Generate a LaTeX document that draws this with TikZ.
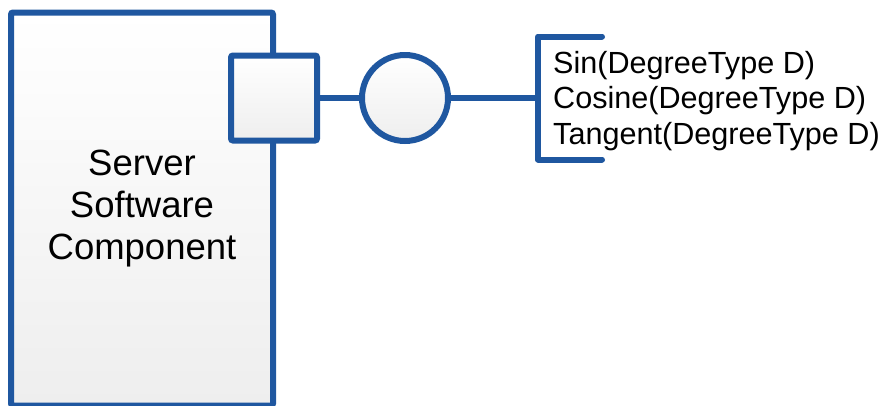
\documentclass[tikz,border=0pt]{standalone}
\usepackage{fontspec}
\setmainfont{Liberation Sans}
\definecolor{umlblue}{RGB}{31,87,160}
\definecolor{shadebot}{RGB}{238,238,238}
\begin{document}
\begin{tikzpicture}[x=1pt,y=-1pt,
  umlline/.style={draw=umlblue,line width=6pt},
  umlbox/.style={umlline,rounded corners=2pt,top color=white,bottom color=shadebot,inner sep=0pt},
  ifacetext/.style={font=\fontsize{30.6}{35.5}\selectfont,align=left,inner sep=0pt}]
\useasboundingbox (0,0) rectangle (888,405);
\node[umlbox,minimum width=262pt,minimum height=393pt,align=center,
  font=\fontsize{36.5}{42}\selectfont] (comp) at (142,209) {Server\\Software\\Component};
\node[umlbox,minimum width=86pt,minimum height=85pt] (port) at (274,98) {};
\node[umlline,circle,minimum size=86pt,inner sep=0pt,top color=white,bottom color=shadebot] (circ) at (405,98) {};
\coordinate (brk) at (538,98);
\node[ifacetext,anchor=west] (ops) at (553,101) {Sin(DegreeType D)\\Cosine(DegreeType D)\\Tangent(DegreeType D)};
\draw[umlline] (port.east) -- (circ.west);
\draw[umlline] (circ.east) -- (brk);
\draw[umlline,line cap=round,line join=round] ([xshift=64pt,yshift=-61.5pt]brk) -- ([yshift=-61.5pt]brk) -- ([yshift=61.5pt]brk) -- ([xshift=64pt,yshift=61.5pt]brk);
\end{tikzpicture}
\end{document}
